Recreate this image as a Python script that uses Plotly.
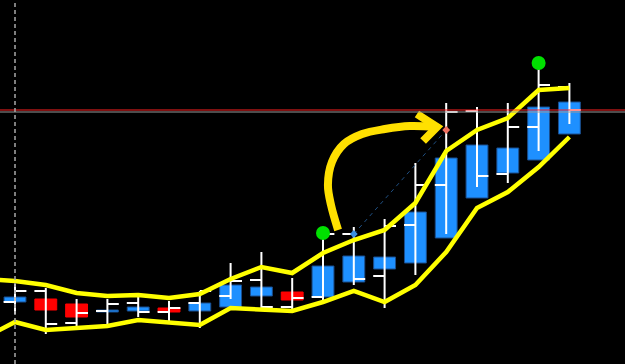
import plotly.graph_objects as go

# ---- data (bar index, price) ----
bars = list(range(19))

# white OHLC bars
bar_open  = [106.2, 107.3, 104.1, 105.3, 106.1, 105.2, 106.1, 106.8, 108.4, 105.7,
             106.7, 113.0, 108.8, 113.9, 117.9, 125.3, 119.0, 123.7, 127.7]
bar_high  = [108.0, 107.6, 106.5, 106.5, 107.0, 106.3, 107.3, 110.1, 111.2, 108.6,
             113.1, 113.7, 114.5, 120.1, 126.1, 125.7, 126.1, 130.1, 128.1]
bar_low   = [105.0, 103.0, 103.7, 104.0, 104.7, 104.1, 103.6, 106.5, 105.5, 105.1,
             106.4, 107.9, 105.6, 108.9, 113.0, 117.7, 118.1, 121.3, 124.0]
bar_close = [107.3, 104.0, 105.1, 106.0, 105.2, 105.6, 107.3, 108.3, 105.7, 106.6,
             113.0, 108.5, 113.8, 117.9, 125.2, 118.8, 123.7, 127.9, 125.4]

# Heiken Ashi bodies
ha_open  = [106.2, 106.5, 106.0, 105.2, 105.3, 105.6, 105.3, 105.7, 106.8, 107.2,
            106.7, 108.2, 109.5, 110.1, 112.6, 116.6, 119.1, 120.4, 123.0]
ha_close = [106.7, 105.4, 104.7, 105.4, 105.7, 105.2, 106.1, 107.9, 107.7, 106.4,
            109.8, 110.8, 110.7, 115.2, 120.6, 121.9, 121.6, 125.7, 126.2]

# envelope bands (index -1 .. 18)
band_x = list(range(-1, 19))
band_upper = [108.5, 108.3, 107.9, 107.1, 106.8, 106.9, 106.6, 107.0, 108.5, 109.7,
              109.1, 111.1, 112.4, 113.4, 116.1, 121.3, 123.4, 124.6, 127.4, 127.6]
band_lower = [102.6, 104.2, 103.4, 103.6, 103.8, 104.4, 104.2, 103.9, 105.6, 105.5,
              105.3, 106.2, 107.3, 106.2, 107.9, 111.2, 115.6, 117.2, 119.7, 122.7]

# signal dots (bar indices)
signal_idx = [10, 17]

# price lines
bid_price = 125.4
ask_price = 125.2
marker_bar = 0

# trade line (bar index, price)
trade_x = [11.0, 14.0]
trade_y = [113.0, 123.4]

# hand-drawn arrow (bar index, price)
arrow_x = [10.49, 10.26, 10.16, 10.29, 10.68, 11.27, 12.01, 12.82, 13.67]
arrow_y = [113.4, 115.9, 117.9, 120.2, 122.0, 123.0, 123.5, 123.8, 123.7]
head_x = [13.05, 13.70, 13.25]
head_y = [125.0, 123.7, 122.3]

BLUE = "#1E90FF"
RED = "#FF0000"

fig = go.Figure()

# HA bodies
base = [min(o, c) for o, c in zip(ha_open, ha_close)]
height = [abs(c - o) for o, c in zip(ha_open, ha_close)]
colors = [BLUE if c >= o else RED for o, c in zip(ha_open, ha_close)]
edge = ["#1b4f8f" if c >= o else RED for o, c in zip(ha_open, ha_close)]
fig.add_trace(go.Bar(x=bars, y=height, base=base, width=0.71,
                     marker=dict(color=colors, line=dict(color=edge, width=1)),
                     hoverinfo="skip"))

# white OHLC bars
fig.add_trace(go.Ohlc(x=bars, open=bar_open, high=bar_high, low=bar_low, close=bar_close,
                      tickwidth=0.37,
                      increasing=dict(line=dict(color="white", width=2)),
                      decreasing=dict(line=dict(color="white", width=2)),
                      hoverinfo="skip"))

# envelope
for band in (band_upper, band_lower):
    fig.add_trace(go.Scatter(x=band_x, y=band, mode="lines",
                             line=dict(color="#FFFF00", width=4.5), hoverinfo="skip"))

# trade line
fig.add_trace(go.Scatter(x=trade_x, y=trade_y, mode="lines",
                         line=dict(color="#1f4f82", width=1, dash="4px,4px"), hoverinfo="skip"))
fig.add_trace(go.Scatter(x=[trade_x[0]], y=[trade_y[0]], mode="markers",
                         marker=dict(color="#3a8fe0", size=6, symbol="diamond"), hoverinfo="skip"))
fig.add_trace(go.Scatter(x=[trade_x[1]], y=[trade_y[1]], mode="markers",
                         marker=dict(color="#f07060", size=6, symbol="diamond"), hoverinfo="skip"))

# arrow
fig.add_trace(go.Scatter(x=arrow_x, y=arrow_y, mode="lines",
                         line=dict(color="#FFE000", width=8, shape="spline"), hoverinfo="skip"))
fig.add_trace(go.Scatter(x=head_x, y=head_y, mode="lines",
                         line=dict(color="#FFE000", width=8), hoverinfo="skip"))

# signal dots
fig.add_trace(go.Scatter(x=[bars[i] for i in signal_idx], y=[bar_high[i] for i in signal_idx],
                         mode="markers", marker=dict(color="#00E000", size=14),
                         hoverinfo="skip"))

fig.update_layout(
    width=625, height=364, margin=dict(l=0, r=0, t=0, b=0),
    paper_bgcolor="black", plot_bgcolor="black", showlegend=False,
    xaxis=dict(range=[-0.487, 19.805], visible=False, rangeslider=dict(visible=False)),
    yaxis=dict(range=[100, 136.4], visible=False),
    shapes=[
        dict(type="line", xref="paper", x0=0, x1=1, yref="y", y0=ask_price, y1=ask_price,
             line=dict(color="#9a9a9a", width=1), layer="above"),
        dict(type="line", xref="paper", x0=0, x1=1, yref="y", y0=bid_price, y1=bid_price,
             line=dict(color="#ff2020", width=1), layer="above"),
        dict(type="line", xref="x", x0=marker_bar, x1=marker_bar, yref="paper", y0=0, y1=1,
             line=dict(color="#a8a8a8", width=1.5, dash="4px,3px"), layer="above"),
    ],
)

fig.write_html("out.html", config={"displayModeBar": False})
